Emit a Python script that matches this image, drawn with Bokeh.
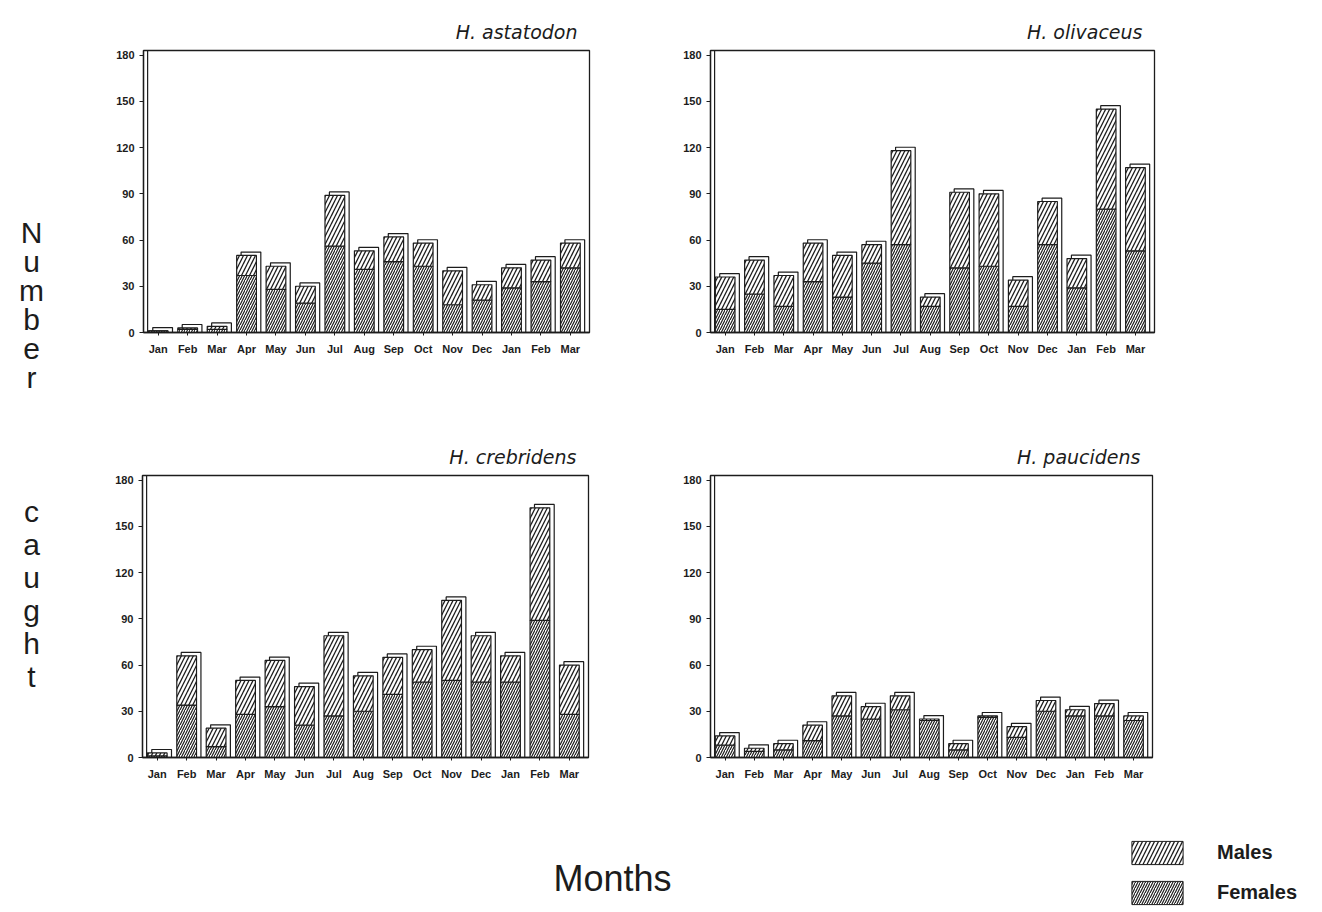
from bokeh.plotting import figure
from bokeh.layouts import row, column
from bokeh.models import Range1d, ColumnDataSource, Span, Legend, LegendItem, FixedTicker
from bokeh.transform import dodge
from bokeh.core.properties import value
from bokeh.embed import file_html
from bokeh.resources import INLINE

# Monthly sampling, January of year one to March of year two
MONTHS = ["Jan", "Feb", "Mar", "Apr", "May", "Jun", "Jul", "Aug",
          "Sep", "Oct", "Nov", "Dec", "Jan", "Feb", "Mar"]
Y_TICKS = [0, 30, 60, 90, 120, 150, 180]

ASTATODON_FEMALES = [1, 2, 2, 37, 28, 19, 56, 41, 46, 43, 18, 21, 29, 33, 42]
ASTATODON_MALES = [0, 1, 2, 13, 15, 11, 33, 12, 16, 15, 22, 10, 13, 14, 16]

OLIVACEUS_FEMALES = [15, 25, 17, 33, 23, 45, 57, 17, 42, 43, 17, 57, 29, 80, 53]
OLIVACEUS_MALES = [21, 22, 20, 25, 27, 12, 61, 6, 49, 47, 17, 28, 19, 65, 54]

CREBRIDENS_FEMALES = [1, 34, 7, 28, 33, 21, 27, 30, 41, 49, 50, 49, 49, 89, 28]
CREBRIDENS_MALES = [2, 32, 12, 22, 30, 25, 52, 23, 24, 21, 52, 30, 17, 73, 32]

PAUCIDENS_FEMALES = [8, 4, 5, 11, 27, 25, 31, 24, 5, 26, 13, 30, 27, 27, 24]
PAUCIDENS_MALES = [6, 2, 4, 10, 13, 8, 9, 1, 4, 1, 7, 7, 4, 8, 3]

INK = "#1c1c1c"
FONT = "Liberation Sans"
TITLE_FONT = "DejaVu Sans"
BAR_W = 0.67
DEPTH_X = 0.15      # sideways shift of the bar's depth outline (categories)
DEPTH_Y = 2.2       # upward shift of the bar's depth outline (fish)

FEMALE_HATCH = dict(hatch_pattern="/", hatch_scale=5, hatch_weight=1.2, hatch_color=INK)
MALE_HATCH = dict(hatch_pattern="/", hatch_scale=8, hatch_weight=1.3, hatch_color=INK)


def make_panel(title, females, males, width, height, left, right, top, bottom):
    x = list(range(1, len(MONTHS) + 1))
    totals = [f + m for f, m in zip(females, males)]
    src = ColumnDataSource(dict(
        x=x, female=females, total=totals,
        lid=[t + DEPTH_Y for t in totals],
    ))
    p = figure(width=width, height=height,
               x_range=Range1d(0.5, 15.65), y_range=Range1d(0, 183),
               output_backend="svg", toolbar_location=None,
               min_border_left=left, min_border_right=right,
               min_border_top=top, min_border_bottom=bottom)

    p.title.text = title
    p.title.align = "right"
    p.title.offset = 12
    p.title.standoff = 15
    p.title.text_font = TITLE_FONT
    p.title.text_font_size = "19px"
    p.title.text_font_style = "italic"
    p.title.text_color = INK

    # depth outline sitting behind each bar
    p.vbar(x=dodge("x", DEPTH_X), top="lid", bottom=0, width=BAR_W,
           fill_color=None, line_color=INK, line_width=1.2, source=src)
    # females at the base, males stacked on top
    p.vbar(x="x", bottom=0, top="female", width=BAR_W, fill_color="white",
           line_color=INK, line_width=1.2, source=src, **FEMALE_HATCH)
    p.vbar(x="x", bottom="female", top="total", width=BAR_W, fill_color="white",
           line_color=INK, line_width=1.2, source=src, **MALE_HATCH)

    # second rule along the value axis
    p.add_layout(Span(location=0.5 + 0.14, dimension="height",
                      line_color=INK, line_width=1.2))

    p.grid.visible = False
    p.outline_line_color = INK
    p.outline_line_width = 1.3

    p.xaxis.ticker = FixedTicker(ticks=x)
    p.xaxis.major_label_overrides = {i: m for i, m in zip(x, MONTHS)}
    p.yaxis.ticker = FixedTicker(ticks=Y_TICKS)
    for ax in (p.xaxis[0], p.yaxis[0]):
        ax.axis_line_color = INK
        ax.axis_line_width = 1.3
        ax.major_tick_line_color = INK
        ax.major_tick_in = 0
        ax.minor_tick_line_color = None
        ax.major_label_text_font = FONT
        ax.major_label_text_font_style = "bold"
        ax.major_label_text_color = INK
    p.xaxis.major_tick_out = 3
    p.xaxis.major_label_standoff = 7
    p.xaxis.major_label_text_font_size = "11px"
    p.yaxis.major_tick_out = 4
    p.yaxis.major_label_standoff = 5
    p.yaxis.major_label_text_font_size = "11px"
    return p


f1 = make_panel("H. astatodon", ASTATODON_FEMALES, ASTATODON_MALES,
                565, 420, 43, 76, 50, 88)
f2 = make_panel("H. olivaceus", OLIVACEUS_FEMALES, OLIVACEUS_MALES,
                657, 420, 45, 168, 49, 88)
f3 = make_panel("H. crebridens", CREBRIDENS_FEMALES, CREBRIDENS_MALES,
                565, 400, 42, 77, 55, 62)
f4 = make_panel("H. paucidens", PAUCIDENS_FEMALES, PAUCIDENS_MALES,
                657, 400, 45, 170, 54, 63)

# shared vertical axis title, written one letter per line
side = figure(width=100, height=820, x_range=Range1d(0, 100), y_range=Range1d(820, 0),
              x_axis_type=None, y_axis_type=None, output_backend="svg",
              toolbar_location=None, min_border=0)
side.grid.visible = False
side.outline_line_color = None
letters, ys = [], []
for word, start, step in (("Number", 232, 29), ("caught", 511, 33)):
    for i, ch in enumerate(word):
        letters.append(ch)
        ys.append(start + i * step)
side.text(x=[31] * len(letters), y=ys, text=letters, text_align="center",
          text_baseline="middle", text_font=value(FONT), text_font_size="30px",
          text_color=INK)

# shared horizontal axis title and key
foot = figure(width=1322, height=92, x_range=Range1d(0, 1322), y_range=Range1d(92, 0),
              x_axis_type=None, y_axis_type=None, output_backend="svg",
              toolbar_location=None, min_border=0)
foot.grid.visible = False
foot.outline_line_color = None
foot.text(x=[612], y=[58], text=["Months"], text_align="center", text_baseline="middle",
          text_font=value(FONT), text_font_size="36px", text_color=INK)

# key swatches: zero-area glyphs that only lend their styling to the legend
male_key = foot.quad(left=[0], right=[0], top=[0], bottom=[0], fill_color="white",
                     line_color=INK, line_width=1, **MALE_HATCH)
female_key = foot.quad(left=[0], right=[0], top=[0], bottom=[0], fill_color="white",
                       line_color=INK, line_width=1, **FEMALE_HATCH)
key = Legend(items=[LegendItem(label="Males", renderers=[male_key]),
                    LegendItem(label="Females", renderers=[female_key])],
             location=(1125, 5), orientation="vertical",
             glyph_width=64, glyph_height=29, spacing=11, padding=0, margin=0,
             label_standoff=28, label_text_font=FONT, label_text_font_size="20px",
             label_text_font_style="bold", label_text_color=INK,
             border_line_color=None, background_fill_alpha=0)
foot.add_layout(key)

layout = column(row(side, column(row(f1, f2), row(f3, f4))), foot)

with open("out.html", "w") as fh:
    fh.write(file_html(layout, INLINE))
